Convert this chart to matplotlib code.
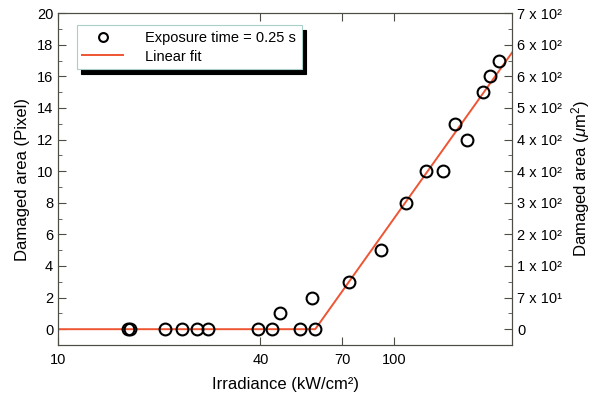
import matplotlib
matplotlib.use("Agg")
import matplotlib.pyplot as plt
import numpy as np

plt.rcParams['font.family'] = ['Liberation Sans', 'DejaVu Sans']
plt.rcParams['mathtext.fontset'] = 'custom'
plt.rcParams['mathtext.rm'] = 'Liberation Sans'
plt.rcParams['mathtext.it'] = 'Liberation Sans:italic'

# measured points (irradiance in kW/cm2, damaged area in pixels)
irradiance = [16.1, 16.4, 20.8, 23.4, 25.9, 27.9, 39.3, 43.3, 45.8, 52.3, 57.1, 58.2,
              73.1, 91.5, 108.3, 124.3, 139.6, 152, 164, 184, 193, 205]
area_px = [0, 0, 0, 0, 0, 0, 0, 0, 1, 0, 2, 0,
           3, 5, 8, 10, 10, 13, 12, 15, 16, 17]

# piecewise linear fit: zero below threshold, then linear in log(x)
fit_threshold = 58.2
fit_slope = 29.9   # pixels per decade
x_range = [10, 224]

left_ticks = [0, 2, 4, 6, 8, 10, 12, 14, 16, 18, 20]
right_labels = ['0', '7 x 10\u00b9', '1 x 10\u00b2', '2 x 10\u00b2', '3 x 10\u00b2',
                '4 x 10\u00b2', '4 x 10\u00b2', '5 x 10\u00b2', '6 x 10\u00b2',
                '6 x 10\u00b2', '7 x 10\u00b2']
x_ticks = [10, 40, 70, 100]

spine_col = '#4d4d45'
fit_col = '#ee5533'

fig = plt.figure(figsize=(6, 3.97), dpi=100)
ax = fig.add_axes([0.0967, 0.131, 0.7567, 0.836])

xf = np.array([x_range[0], fit_threshold, x_range[1]])
yf = np.where(xf > fit_threshold, fit_slope * (np.log10(xf) - np.log10(fit_threshold)), 0)
ax.plot(xf, yf, color=fit_col, lw=1.4, label='Linear fit', zorder=2)
ax.plot(irradiance, area_px, 'o', mfc='none', mec='black', mew=1.5, ms=8.5,
        label='Exposure time = 0.25 s', zorder=3)

ax.set_xscale('log')
ax.set_xlim(x_range)
ax.set_ylim(-1, 20)
ax.set_xticks(x_ticks)
ax.set_xticklabels([str(t) for t in x_ticks])
ax.xaxis.set_minor_locator(matplotlib.ticker.NullLocator())
ax.set_yticks(left_ticks)
ax.set_yticks(np.arange(1, 20, 2), minor=True)
ax.tick_params(axis='both', which='both', direction='in', labelsize=10.5, color=spine_col)
ax.tick_params(axis='x', top=True, pad=6)
ax.tick_params(which='major', length=6)
ax.tick_params(which='minor', length=3)
ax.set_xlabel('Irradiance (kW/cm\u00b2)', fontsize=12, labelpad=7)
ax.set_ylabel('Damaged area (Pixel)', fontsize=12, labelpad=5)
for s in ax.spines.values():
    s.set_color(spine_col)

ax2 = ax.twinx()
ax2.set_ylim(-1, 20)
ax2.set_yticks(left_ticks)
ax2.set_yticklabels(right_labels)
ax2.set_yticks(np.arange(1, 20, 2), minor=True)
ax2.tick_params(axis='y', which='both', direction='in', labelsize=10.5, color=spine_col)
ax2.tick_params(which='major', length=6)
ax2.tick_params(which='minor', length=3)
ax2.set_ylabel(r'Damaged area ($\mu$m$^2$)', fontsize=12, labelpad=5)
for s in ax2.spines.values():
    s.set_color(spine_col)

h, l = ax.get_legend_handles_labels()
leg = ax.legend(h[::-1], l[::-1], loc='upper left', bbox_to_anchor=(0.025, 0.985),
                fontsize=10.5, frameon=True, fancybox=False, borderpad=0.4,
                handlelength=2.8, handletextpad=1.5, markerscale=0.75,
                labelspacing=0.3,
                shadow={'color': 'black', 'alpha': 1, 'ox': 3, 'oy': -3})
leg.get_frame().set_edgecolor('#a8cfc8')
leg.get_frame().set_linewidth(0.8)

fig.savefig('out.png', dpi=100)
